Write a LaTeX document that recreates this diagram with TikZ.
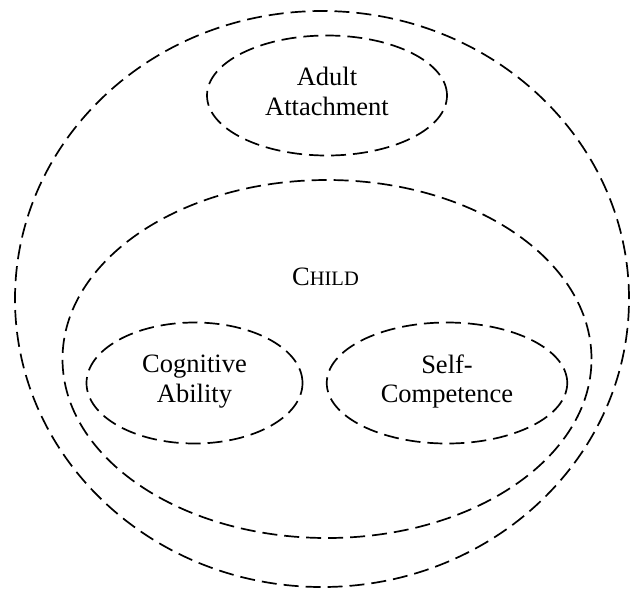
\documentclass[tikz,border=0pt]{standalone}
\usepackage{fontspec}
\setmainfont{Liberation Serif}
\usetikzlibrary{shapes.geometric}
\begin{document}
\begin{tikzpicture}[x=1pt,y=-1pt,
  ell/.style={draw, ellipse, inner sep=0pt, line width=1.7pt, dash pattern=on 15pt off 7pt},
  lbl/.style={align=center, font=\fontsize{26.5}{29.5}\selectfont, inner sep=0pt}]
\useasboundingbox (0,0) rectangle (631,590);
\node[ell, minimum width=614pt, minimum height=576pt] (outer) at (322,299) {};
\node[ell, minimum width=240pt, minimum height=120pt] (adult) at (327,95.5) {};
\node[ell, minimum width=529pt, minimum height=358pt] (child) at (327,359) {};
\node[ell, minimum width=216pt, minimum height=121pt] (cog) at (194.5,383) {};
\node[ell, minimum width=240.5pt, minimum height=121pt] (self) at (447,383) {};
\node[lbl] (adulttxt) at (327,91.3) {Adult\\Attachment};
\node[lbl, anchor=base] (childtxt) at (325.5,285) {C{\fontsize{20.5}{24}\selectfont HILD}};
\node[lbl] (cogtxt) at (194.5,381.4) {Cognitive\\Ability};
\node[lbl] (selftxt) at (447,381.3) {Self-\\Competence};
\end{tikzpicture}
\end{document}
